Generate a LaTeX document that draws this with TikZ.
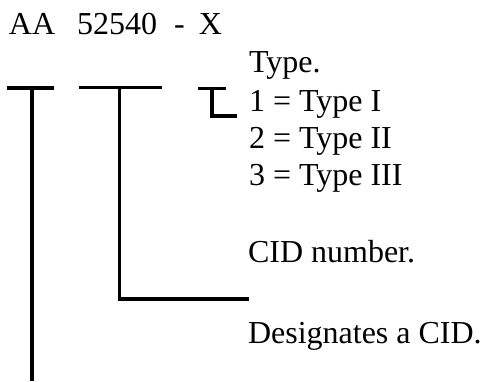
\documentclass[tikz,border=0pt]{standalone}
\usepackage{fontspec}
\setmainfont{Liberation Serif}
\begin{document}
\begin{tikzpicture}[x=1pt,y=1pt,
  lbl/.style={anchor=base west,inner sep=0pt,outer sep=0pt,font=\fontsize{32}{38}\selectfont},
  bar/.style={line width=3.2pt,line cap=butt,line join=miter}]
\useasboundingbox (0,0) rectangle (485,-381);
% code text
\node[lbl] (code) at (9,-34) {AA\hspace{22pt}52540\hspace{17pt}-\hspace{14pt}X};
% labels
\node[lbl] (type) at (249,-72) {Type.};
\node[lbl] (t1) at (249,-111) {1 = Type I};
\node[lbl] (t2) at (249,-148) {2 = Type II};
\node[lbl] (t3) at (249,-185) {3 = Type III};
\node[lbl] (cid) at (248,-262) {CID number.};
\node[lbl] (des) at (248,-343) {Designates a CID.};
% bracket coordinates
\coordinate (a1) at (7,-88);
\coordinate (a2) at (54,-88);
\coordinate (atop) at (32,-88);
\coordinate (aend) at (32,-381);
\coordinate (b1) at (79,-87.3);
\coordinate (b2) at (161.5,-87.3);
\coordinate (btop) at (119.3,-87.3);
\coordinate (bend) at (249,-299);
\coordinate (c1) at (198,-88.3);
\coordinate (c2) at (226,-88.3);
\coordinate (ctop) at (212,-88.3);
\coordinate (cend) at (237,-116);
% brackets
\draw[bar] (a1) -- (a2);
\draw[bar] (atop) -- (aend);
\draw[bar] (b1) -- (b2);
\draw[bar] (btop) |- (bend);
\draw[bar] (c1) -- (c2);
\draw[bar] (ctop) |- (cend);
\end{tikzpicture}
\end{document}
